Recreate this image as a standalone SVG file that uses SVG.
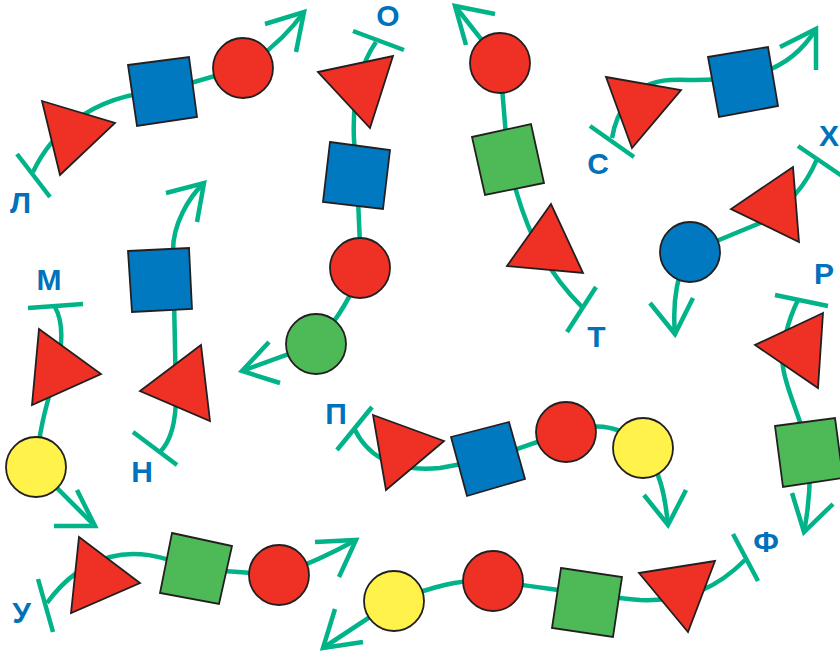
<svg xmlns="http://www.w3.org/2000/svg" width="840" height="653" viewBox="0 0 840 653">
<style>
.c{fill:none;stroke:#00B388;stroke-width:4.5;stroke-linecap:butt;stroke-linejoin:miter}
.s{stroke:#231F20;stroke-width:1.8;stroke-linejoin:miter}
.r{fill:#EE3124}.b{fill:#0079C1}.g{fill:#4DB957}.y{fill:#FFF24A}
.t{font-family:"Liberation Sans",Arial,sans-serif;font-weight:bold;font-size:30px;fill:#0072BC;text-anchor:middle}
</style>
<rect width="840" height="653" fill="#fff"/>
<g id="connectors">
<!-- Л -->
<path class="c" d="M33,172 C48,140 85,95 163,91 L243,68 Q280,45 304,12"/>
<path class="c" d="M265,24 L304,12 L296,52"/>
<path class="c" d="M17,154 L50,197"/>
<!-- О -->
<path class="c" d="M376,42 C360,65 352,95 354,140 L357,176 L361,268 Q350,305 316,344 L242,371"/>
<path class="c" d="M269,342 L242,371 L280,383"/>
<path class="c" d="M353,31 L404,50"/>
<!-- Т -->
<path class="c" d="M455,6 L500,63 L508,160 C522,220 540,265 582,307"/>
<path class="c" d="M495,14 L455,6 L466,45"/>
<path class="c" d="M596,287 L567,332"/>
<!-- С -->
<path class="c" d="M612,138 C616,115 630,82 670,80 C690,79 700,82 743,77 C775,72 800,55 816,29"/>
<path class="c" d="M780,47 L816,29 L816,70"/>
<path class="c" d="M590,126 L634,157"/>
<!-- Х -->
<path class="c" d="M817,159 Q800,200 760,223 L690,252 C678,270 672,300 675,334"/>
<path class="c" d="M650,303 L675,334 L693,298"/>
<path class="c" d="M798,146 L842,176"/>
<!-- Р -->
<path class="c" d="M798,300 C788,320 780,350 783,367 C786,390 800,415 809,452 Q812,490 804,532"/>
<path class="c" d="M792,493 L804,532 L833,504"/>
<path class="c" d="M775,295 L828,306"/>
<!-- М -->
<path class="c" d="M55,307 C65,325 62,350 55,375 C50,395 40,420 36,467 L95,526"/>
<path class="c" d="M54,526 L95,526 L77,490"/>
<path class="c" d="M28,308 L83,304"/>
<!-- Н -->
<path class="c" d="M160,452 C172,440 176,420 176,395 L173,250 C173,225 188,198 204,183"/>
<path class="c" d="M166,193 L204,183 L197,222"/>
<path class="c" d="M133,432 L177,465"/>
<!-- П -->
<path class="c" d="M355,430 C370,460 400,472 440,468 L488,459 L566,432 C590,424 620,422 643,448 C660,470 665,495 668,525"/>
<path class="c" d="M644,495 L668,525 L686,490"/>
<path class="c" d="M337,450 L372,407"/>
<!-- У -->
<path class="c" d="M47,603 C60,585 80,565 110,557 C135,550 160,555 196,569 L279,575 Q320,560 356,540"/>
<path class="c" d="M315,542 L356,540 L339,577"/>
<path class="c" d="M38,579 L53,632"/>
<!-- Ф -->
<path class="c" d="M745,560 C720,585 690,602 640,600 C610,598 560,590 493,581 C460,578 430,588 394,601 L323,648"/>
<path class="c" d="M335,609 L323,648 L363,642"/>
<path class="c" d="M733,534 L758,581"/>
</g>
<g id="chain-L">
<g id="L-tri"><polygon class="s r" points="42,101 115,123 60,175"/></g>
<g id="L-sq"><polygon class="s b" points="128,65 189,57 197,117 137,126"/></g>
<g id="L-circ"><circle class="s r" cx="243" cy="68" r="30"/></g>
<g id="L-label"><text class="t" x="20.5" y="213">Л</text></g>
</g>
<g id="chain-O">
<g id="O-tri"><polygon class="s r" points="318,72 393,56 370,128"/></g>
<g id="O-sq"><polygon class="s b" points="330,142 390,150 383,209 323,202"/></g>
<g id="O-circ1"><circle class="s r" cx="360" cy="268" r="30"/></g>
<g id="O-circ2"><circle class="s g" cx="316" cy="344" r="30"/></g>
<g id="O-label"><text class="t" x="388" y="26">О</text></g>
</g>
<g id="chain-T">
<g id="T-circ"><circle class="s r" cx="500" cy="63" r="30"/></g>
<g id="T-sq"><polygon class="s g" points="472,137 531,124 544,183 485,195"/></g>
<g id="T-tri"><polygon class="s r" points="551,204 507,266 583,273"/></g>
<g id="T-label"><text class="t" x="596.5" y="347">Т</text></g>
</g>
<g id="chain-S">
<g id="S-tri"><polygon class="s r" points="606,77 681,90 632,148"/></g>
<g id="S-sq"><polygon class="s b" points="708,57 768,47 778,106 719,117"/></g>
<g id="S-label"><text class="t" x="598" y="174">С</text></g>
</g>
<g id="chain-H">
<g id="H-tri"><polygon class="s r" points="793,167 731,209 799,242"/></g>
<g id="H-circ"><circle class="s b" cx="690" cy="252" r="30"/></g>
<g id="H-label"><text class="t" x="829" y="146">Х</text></g>
</g>
<g id="chain-R">
<g id="R-tri"><polygon class="s r" points="823,313 755,345 818,388"/></g>
<g id="R-sq"><polygon class="s g" points="775,426 835,418 843,478 783,487"/></g>
<g id="R-label"><text class="t" x="824" y="284">Р</text></g>
</g>
<g id="chain-M">
<g id="M-tri"><polygon class="s r" points="39,329 101,374 32,405"/></g>
<g id="M-circ"><circle class="s y" cx="36" cy="467" r="30"/></g>
<g id="M-label"><text class="t" x="49" y="290">М</text></g>
</g>
<g id="chain-N">
<g id="N-sq"><polygon class="s b" points="128,251 189,248 192,309 132,312"/></g>
<g id="N-tri"><polygon class="s r" points="201,345 140,391 210,421"/></g>
<g id="N-label"><text class="t" x="142" y="482">Н</text></g>
</g>
<g id="chain-P">
<g id="P-tri"><polygon class="s r" points="373,415 444,441 386,490"/></g>
<g id="P-sq"><polygon class="s b" points="451,437 509,422 525,479 467,496"/></g>
<g id="P-circ1"><circle class="s r" cx="566" cy="432" r="30"/></g>
<g id="P-circ2"><circle class="s y" cx="643" cy="448" r="30"/></g>
<g id="P-label"><text class="t" x="336" y="424">П</text></g>
</g>
<g id="chain-U">
<g id="U-tri"><polygon class="s r" points="79,537 140,583 71,613"/></g>
<g id="U-sq"><polygon class="s g" points="172,533 232,546 219,604 160,593"/></g>
<g id="U-circ"><circle class="s r" cx="279" cy="575" r="30"/></g>
<g id="U-label"><text class="t" x="21.5" y="623">У</text></g>
</g>
<g id="chain-F">
<g id="F-tri"><polygon class="s r" points="639,573 715,561 688,632"/></g>
<g id="F-sq"><polygon class="s g" points="561,568 622,577 613,637 552,628"/></g>
<g id="F-circ1"><circle class="s r" cx="493" cy="581" r="30"/></g>
<g id="F-circ2"><circle class="s y" cx="394" cy="601" r="30"/></g>
<g id="F-label"><text class="t" x="766" y="552">Ф</text></g>
</g>
</svg>
